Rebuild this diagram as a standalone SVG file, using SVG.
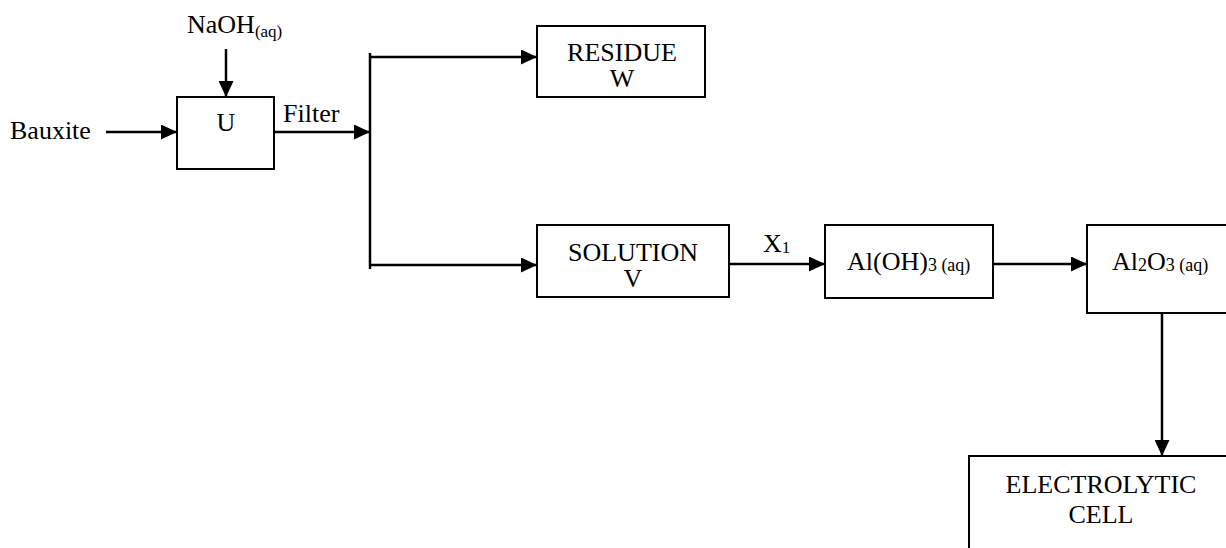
<svg xmlns="http://www.w3.org/2000/svg" width="1226" height="548" viewBox="0 0 1226 548">
<style>
.box{fill:#fff;stroke:#000;stroke-width:2}
.ln{fill:none;stroke:#000;stroke-width:2.5}
text{font-family:'Liberation Serif','Times New Roman',serif;font-size:26px;fill:#000}
.c{text-anchor:middle}
.s{font-size:17px}
.s2{font-size:18px}
</style>
<defs>
<marker id="a" viewBox="0 0 16 15" refX="16" refY="7.5" markerWidth="16" markerHeight="15" markerUnits="userSpaceOnUse" orient="auto">
<path d="M0,0 L16,7.5 L0,15 z" fill="#000"/>
</marker>
</defs>
<g id="connectors">
<line class="ln" x1="106" y1="132" x2="177" y2="132" marker-end="url(#a)"/>
<line class="ln" x1="226" y1="49" x2="226" y2="97" marker-end="url(#a)"/>
<line class="ln" x1="274" y1="132" x2="370" y2="132" marker-end="url(#a)"/>
<line class="ln" x1="370" y1="53" x2="370" y2="269"/>
<line class="ln" x1="370" y1="57" x2="537" y2="57" marker-end="url(#a)"/>
<line class="ln" x1="370" y1="265" x2="537" y2="265" marker-end="url(#a)"/>
<line class="ln" x1="729" y1="264" x2="825" y2="264" marker-end="url(#a)"/>
<line class="ln" x1="993" y1="264" x2="1087" y2="264" marker-end="url(#a)"/>
<line class="ln" x1="1162" y1="313" x2="1162" y2="456" marker-end="url(#a)"/>
</g>
<g id="label-bauxite"><text x="10" y="139">Bauxite</text></g>
<g id="label-naoh"><text x="187" y="33">NaOH<tspan class="s" dy="4">(aq)</tspan></text></g>
<g id="label-filter"><text x="283" y="122">Filter</text></g>
<g id="label-x1"><text x="763" y="252">X<tspan class="s" dy="1">1</tspan></text></g>
<g id="node-u">
<rect class="box" x="177" y="97" width="97" height="72"/>
<text class="c" x="226" y="131">U</text>
</g>
<g id="node-residue">
<rect class="box" x="537" y="26" width="168" height="71"/>
<text class="c" x="622" y="61">RESIDUE</text>
<text class="c" x="622" y="87">W</text>
</g>
<g id="node-solution">
<rect class="box" x="537" y="225" width="192" height="72"/>
<text class="c" x="633" y="261">SOLUTION</text>
<text class="c" x="633" y="287">V</text>
</g>
<g id="node-aloh3">
<rect class="box" x="825" y="225" width="168" height="73"/>
<text x="847" y="270">Al(OH)<tspan class="s2" dy="1">3 (aq)</tspan></text>
</g>
<g id="node-al2o3">
<rect class="box" x="1087" y="225" width="160" height="88"/>
<text x="1112" y="270">Al<tspan class="s2" dy="1">2</tspan><tspan dy="-1">O</tspan><tspan class="s2" dy="1">3 (aq)</tspan></text>
</g>
<g id="node-electrolytic">
<rect class="box" x="969" y="456" width="280" height="120"/>
<text class="c" x="1101" y="493">ELECTROLYTIC</text>
<text class="c" x="1101" y="523">CELL</text>
</g>
</svg>
